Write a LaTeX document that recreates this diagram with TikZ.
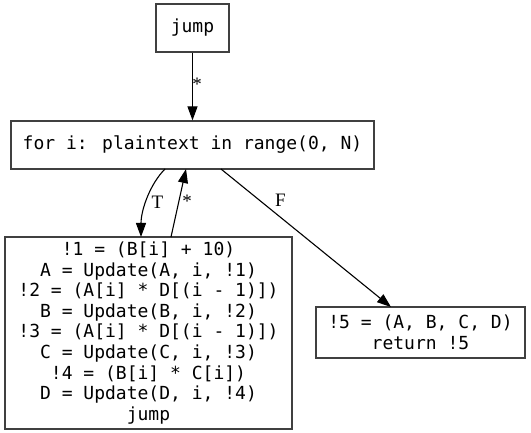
\documentclass[tikz,border=0pt]{standalone}
\usepackage{fontspec}
\setmainfont{Liberation Serif}
\newfontfamily\codefont{DejaVu Sans Mono}
\usetikzlibrary{arrows.meta}
\begin{document}
\begin{tikzpicture}[x=1pt,y=-1pt,
  box/.style={draw=black!75,line width=1.2pt,inner sep=0pt,
    font=\codefont\fontsize{18}{20.6}\selectfont,align=center},
  edge/.style={line width=1.1pt,-{Triangle[length=14pt,width=10pt]}},
  lbl/.style={font=\fontsize{19}{20}\selectfont,inner sep=0pt}]
\useasboundingbox (0,0) rectangle (531,433);
\node[box,minimum width=73pt,minimum height=48pt] (jump) at (192.5,28) {jump};
\node[box,minimum width=363pt,minimum height=48pt] (for) at (192.5,145) {for i: plaintext in range(0, N)};
\node[box,minimum width=287pt,minimum height=192pt] (body) at (148.5,333) {!1 = (B[i] + 10)\\A = Update(A, i, !1)\\!2 = (A[i] * D[(i - 1)])\\B = Update(B, i, !2)\\!3 = (A[i] * D[(i - 1)])\\C = Update(C, i, !3)\\!4 = (B[i] * C[i])\\D = Update(D, i, !4)\\jump};
\node[box,minimum width=209pt,minimum height=51pt] (ret) at (420.5,332.5) {!5 = (A, B, C, D)\\return !5};
\coordinate (tS) at (165,169);
\coordinate (tE) at (141,237);
\coordinate (sS) at (171,237);
\coordinate (sE) at (186,169);
\coordinate (fS) at (221,169);
\coordinate (fE) at (391,307);
\draw[edge] (jump.south) -- (for.north);
\draw[edge] (tS) .. controls (150,184) and (141,210) .. (tE);
\draw[edge] (sS) -- (sE);
\draw[edge] (fS) -- (fE);
\node[lbl] (l1) at (197,84) {*};
\node[lbl] (l2) at (157.5,202) {T};
\node[lbl] (l3) at (187,201) {*};
\node[lbl] (l4) at (280.5,200) {F};
\end{tikzpicture}
\end{document}
